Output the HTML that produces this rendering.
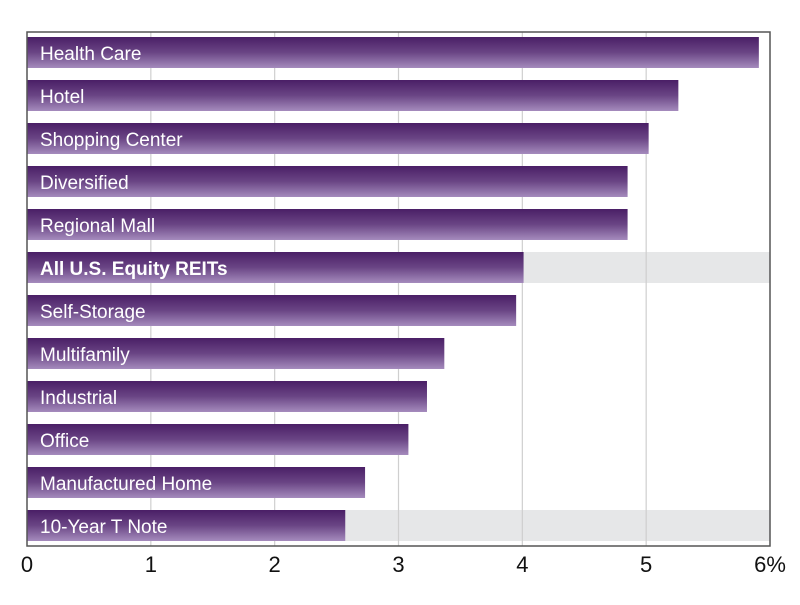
<!DOCTYPE html>
<html><head><meta charset="utf-8"><style>
body{margin:0;background:#fff;width:800px;height:600px;overflow:hidden;font-family:"Liberation Sans",sans-serif}
</style></head><body>
<svg id="chart" width="800" height="600" xmlns="http://www.w3.org/2000/svg">
<defs><linearGradient id="g" x1="0" y1="0" x2="0" y2="1"><stop offset="0" stop-color="#4a1f66"/><stop offset="0.5" stop-color="#6a4585"/><stop offset="1" stop-color="#a58bbd"/></linearGradient></defs>
</svg>
<script>
const categories=["Health Care","Hotel","Shopping Center","Diversified","Regional Mall","All U.S. Equity REITs","Self-Storage","Multifamily","Industrial","Office","Manufactured Home","10-Year T Note"];
const values=[5.91,5.26,5.02,4.85,4.85,4.01,3.95,3.37,3.23,3.08,2.73,2.57];
const highlighted=[false,false,false,false,false,true,false,false,false,false,false,true];
const tickValues=[0,1,2,3,4,5,6];
const tickLabels=["0","1","2","3","4","5","6%"];
const NS="http://www.w3.org/2000/svg";
const svg=document.getElementById('chart');
const L=27,R=770,T=32,B=546;
const x=v=>L+(R-L)*v/6;
const y=i=>37+i*43;
const BH=31;
function mk(t,a){const e=document.createElementNS(NS,t);for(const k in a)e.setAttribute(k,a[k]);svg.appendChild(e);return e;}
categories.forEach((c,i)=>{if(highlighted[i]){const b=mk('rect',{x:L,y:y(i),width:R-L,height:BH,fill:'#e6e7e8'});

}});
tickValues.forEach((v,i)=>{
 if(v>0&&v<6){const g=mk('line',{x1:x(v),x2:x(v),y1:T,y2:B,stroke:'#cfcfcf','stroke-width':1.2});
 
 }
 const t=mk('text',{x:x(v),y:572,'text-anchor':'middle','font-size':22,fill:'#111'});t.textContent=tickLabels[i];
 
 
});
categories.forEach((c,i)=>{
 const r=mk('rect',{x:L,y:y(i),width:x(values[i])-L,height:BH,fill:'url(#g)'});
 
 
 const t=mk('text',{x:40,y:y(i)+23,'font-size':19,fill:'#fff','font-weight':highlighted[i]&&i===5?'bold':'normal',textLength:0});
 t.removeAttribute('textLength');
 t.textContent=c;
 
 
});
const f=mk('path',{d:`M${L},${B}V${T}H${R}V${B}Z`,fill:'none',stroke:'#555','stroke-width':1.5});


</script>
</body></html>
